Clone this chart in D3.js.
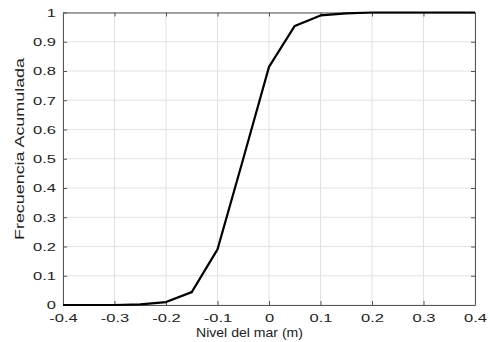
<!DOCTYPE html>
<html>
<head>
<meta charset="utf-8">
<script src="https://cdn.jsdelivr.net/npm/d3@7"></script>
<style>
  body { margin: 0; background: #fff; }
  text { font-family: "Liberation Sans", Arial, sans-serif; fill: #222; }
</style>
</head>
<body>
<div id="chart"></div>
<script>

//********************* DATA ************************************

var nivel = [-0.4, -0.35, -0.3, -0.25, -0.2, -0.15, -0.1, -0.05, 0, 0.05, 0.1, 0.15, 0.2, 0.25, 0.3, 0.35, 0.4];
var frecuencia = [0, 0, 0, 0.002, 0.01, 0.044, 0.19, 0.50, 0.814, 0.954, 0.99, 0.997, 1, 1, 1, 1, 1];
var xTicks = [-0.4, -0.3, -0.2, -0.1, 0, 0.1, 0.2, 0.3, 0.4];
var yTicks = [0, 0.1, 0.2, 0.3, 0.4, 0.5, 0.6, 0.7, 0.8, 0.9, 1];
var xTitle = "Nivel del mar (m)";
var yTitle = "Frecuencia Acumulada";

//********************* DIMENSIONS ************************************

var margin = {top: 12.5, right: 15, bottom: 37, left: 63},
    width = 490 - margin.left - margin.right,
    height = 342 - margin.top - margin.bottom;

var stretch = 1.4;   // tick labels are drawn wide in the original

var fmt = function(d) { return String(+d.toFixed(1)); };

var x = d3.scaleLinear().domain([-0.4, 0.4]).range([0, width]);
var y = d3.scaleLinear().domain([0, 1]).range([height, 0]);

var root = d3.select("#chart").append("svg")
    .attr("width", 490)
    .attr("height", 342);

var svg = root.append("g")
    .attr("transform", "translate(" + margin.left + "," + margin.top + ")");

//grid
svg.append("g").selectAll("line").data(xTicks).enter().append("line")
    .attr("x1", function(d) { return x(d); })
    .attr("x2", function(d) { return x(d); })
    .attr("y1", 0).attr("y2", height)
    .attr("stroke", "#e2e2e2");

svg.append("g").selectAll("line").data(yTicks).enter().append("line")
    .attr("y1", function(d) { return y(d); })
    .attr("y2", function(d) { return y(d); })
    .attr("x1", 0).attr("x2", width)
    .attr("stroke", "#e2e2e2");

//axes (ticks point inward, box on)
var xAxis = svg.append("g")
    .attr("transform", "translate(0," + height + ")")
    .call(d3.axisBottom(x).tickValues(xTicks).tickFormat(fmt).tickSize(-4).tickSizeOuter(0));

xAxis.selectAll("text")
    .attr("dy", null)
    .attr("y", 17.5)
    .attr("font-size", 11.8)
    .attr("transform", "scale(" + stretch + ",1)");

var yAxis = svg.append("g")
    .call(d3.axisLeft(y).tickValues(yTicks).tickFormat(fmt).tickSize(-4).tickSizeOuter(0));

yAxis.selectAll("text")
    .attr("x", -7 / stretch)
    .attr("font-size", 11.8)
    .attr("transform", "scale(" + stretch + ",1)");

svg.append("g")
    .call(d3.axisTop(x).tickValues(xTicks).tickFormat("").tickSize(-4).tickSizeOuter(0));

svg.append("g")
    .attr("transform", "translate(" + width + ",0)")
    .call(d3.axisRight(y).tickValues(yTicks).tickFormat("").tickSize(-4).tickSizeOuter(0));

svg.selectAll(".domain").attr("stroke", "#555");
svg.selectAll(".tick line").attr("stroke", "#555");

//curve
var valueline = d3.line()
    .x(function(d, i) { return x(nivel[i]); })
    .y(function(d) { return y(d); });

svg.append("path")
    .datum(frecuencia)
    .attr("d", valueline)
    .attr("fill", "none")
    .attr("stroke", "#000")
    .attr("stroke-width", 2.2)
    .attr("stroke-linejoin", "round");

//labels
root.append("text")
    .attr("x", 196)
    .attr("y", 337)
    .attr("font-size", 13.5)
    .attr("textLength", 107)
    .attr("lengthAdjust", "spacingAndGlyphs")
    .text(xTitle);

root.append("text")
    .attr("transform", "translate(24,149) rotate(-90)")
    .attr("text-anchor", "middle")
    .attr("font-size", 13)
    .attr("textLength", 182)
    .attr("lengthAdjust", "spacingAndGlyphs")
    .text(yTitle);

</script>
</body>
</html>
